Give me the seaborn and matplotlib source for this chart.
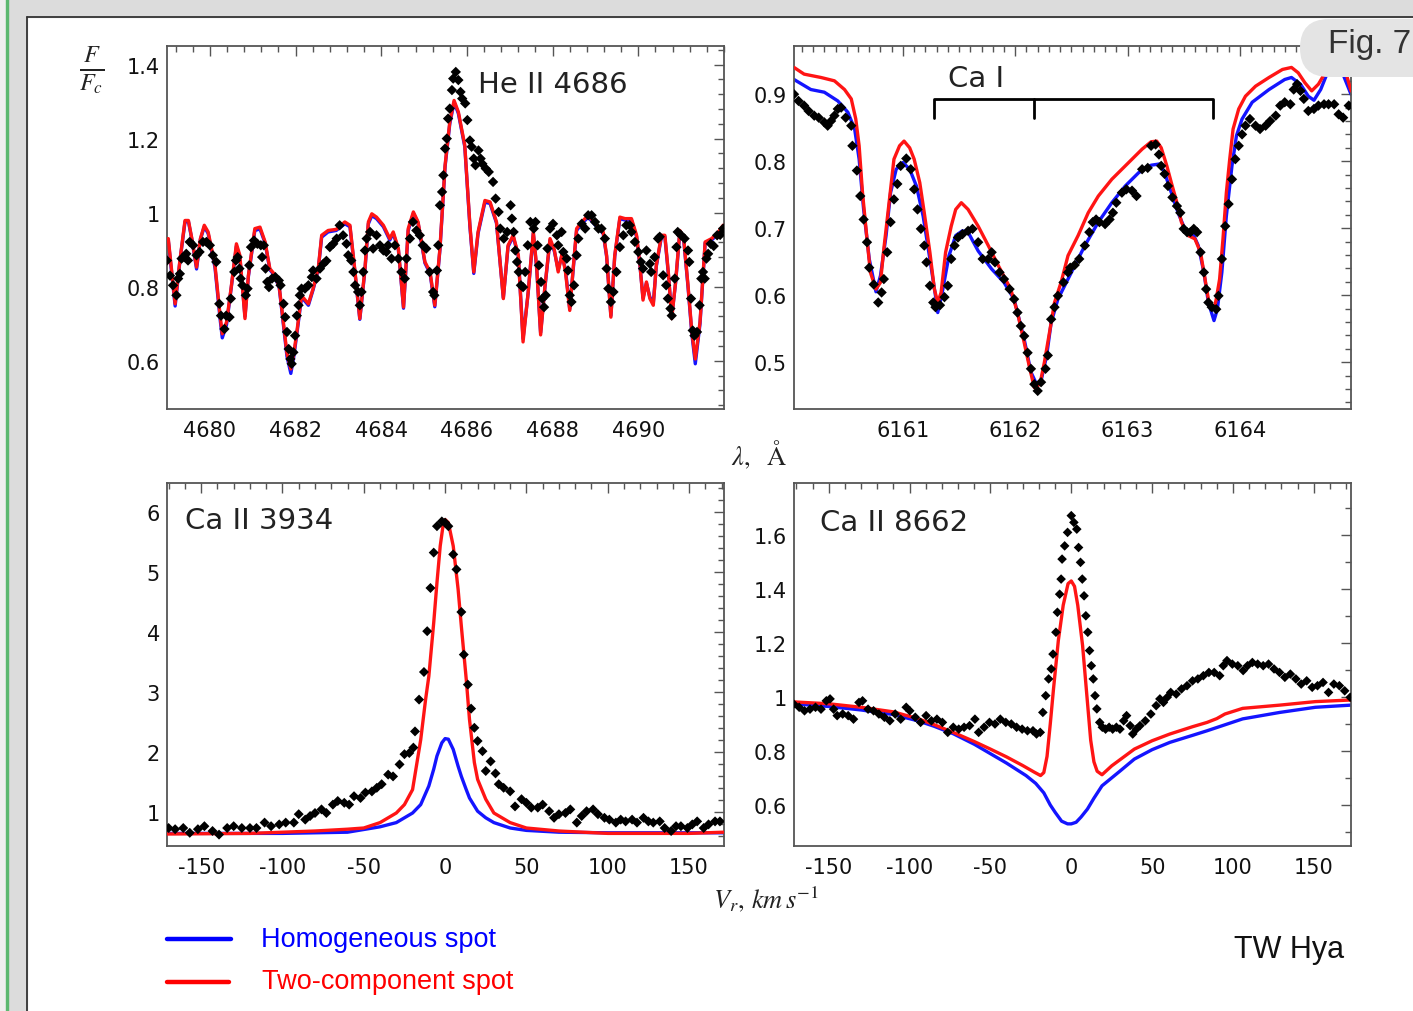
import numpy as np
import matplotlib
matplotlib.use("Agg")
import matplotlib.pyplot as plt
import seaborn as sns
from matplotlib.patches import Rectangle, FancyBboxPatch
from matplotlib.lines import Line2D
from matplotlib.ticker import MultipleLocator, FixedLocator, FixedFormatter

# ---------------- DATA ----------------
# He II 4686 panel (wavelength in Angstrom, normalised flux)
heii_mod_wl = [4679.03, 4679.19, 4679.30, 4679.42, 4679.50, 4679.58, 4679.69, 4679.78, 4679.87, 4679.96,
               4680.12, 4680.24, 4680.29, 4680.39, 4680.50, 4680.62, 4680.70, 4680.82, 4680.90, 4681.05,
               4681.17, 4681.29, 4681.40, 4681.50, 4681.62, 4681.72, 4681.80, 4681.89, 4681.96, 4682.03,
               4682.14, 4682.30, 4682.41, 4682.53, 4682.61, 4682.76, 4682.95, 4683.15, 4683.27, 4683.38,
               4683.50, 4683.62, 4683.70, 4683.78, 4683.89, 4684.05, 4684.20, 4684.28, 4684.40, 4684.52,
               4684.63, 4684.75, 4684.86, 4685.02, 4685.14, 4685.25, 4685.37, 4685.49, 4685.60, 4685.70,
               4685.80, 4685.95, 4686.07, 4686.16, 4686.26, 4686.42, 4686.54, 4686.69, 4686.85, 4686.96,
               4687.08, 4687.20, 4687.31, 4687.43, 4687.55, 4687.63, 4687.72, 4687.82, 4687.94, 4688.04,
               4688.13, 4688.22, 4688.30, 4688.40, 4688.48, 4688.56, 4688.68, 4688.83, 4689.03, 4689.18,
               4689.26, 4689.36, 4689.45, 4689.57, 4689.69, 4689.84, 4689.96, 4690.04, 4690.11, 4690.19,
               4690.27, 4690.35, 4690.42, 4690.54, 4690.62, 4690.70, 4690.78, 4690.87, 4690.97, 4691.06,
               4691.16, 4691.25, 4691.33, 4691.44, 4691.56, 4691.71, 4691.87, 4691.98]
heii_red = [0.930, 0.754, 0.870, 0.979, 0.979, 0.930, 0.853, 0.930, 0.966, 0.948,
            0.858, 0.722, 0.673, 0.705, 0.800, 0.916, 0.885, 0.714, 0.831, 0.957,
            0.961, 0.921, 0.849, 0.835, 0.800, 0.700, 0.620, 0.578, 0.620, 0.678,
            0.776, 0.754, 0.795, 0.849, 0.939, 0.952, 0.955, 0.975, 0.966, 0.850,
            0.714, 0.849, 0.975, 0.997, 0.988, 0.966, 0.930, 0.948, 0.903, 0.745,
            0.957, 1.002, 0.975, 0.867, 0.840, 0.750, 0.903, 1.128, 1.245, 1.303,
            1.272, 1.182, 0.966, 0.840, 0.948, 1.033, 1.029, 0.975, 0.768, 0.912,
            0.939, 0.885, 0.651, 0.786, 0.948, 0.850, 0.670, 0.800, 0.930, 0.900,
            0.840, 0.890, 0.840, 0.736, 0.850, 0.957, 0.975, 0.993, 0.966, 0.948,
            0.885, 0.718, 0.885, 0.988, 0.984, 0.984, 0.939, 0.858, 0.764, 0.813,
            0.768, 0.750, 0.858, 0.939, 0.939, 0.840, 0.714, 0.813, 0.952, 0.930,
            0.804, 0.678, 0.605, 0.705, 0.921, 0.930, 0.948, 0.966]
heii_blue = [0.925, 0.748, 0.868, 0.975, 0.976, 0.928, 0.848, 0.928, 0.962, 0.944,
             0.852, 0.712, 0.662, 0.698, 0.798, 0.910, 0.880, 0.720, 0.828, 0.952,
             0.956, 0.918, 0.846, 0.832, 0.797, 0.694, 0.612, 0.566, 0.612, 0.672,
             0.772, 0.750, 0.792, 0.846, 0.934, 0.948, 0.952, 0.970, 0.962, 0.846,
             0.712, 0.845, 0.970, 0.992, 0.984, 0.962, 0.926, 0.944, 0.900, 0.742,
             0.952, 0.998, 0.972, 0.864, 0.836, 0.746, 0.900, 1.124, 1.240, 1.298,
             1.268, 1.178, 0.962, 0.836, 0.944, 1.028, 1.025, 0.972, 0.770, 0.908,
             0.936, 0.882, 0.660, 0.784, 0.944, 0.846, 0.676, 0.798, 0.926, 0.896,
             0.846, 0.886, 0.846, 0.740, 0.846, 0.952, 0.970, 0.988, 0.962, 0.944,
             0.882, 0.722, 0.882, 0.984, 0.980, 0.980, 0.935, 0.855, 0.770, 0.810,
             0.772, 0.756, 0.855, 0.935, 0.935, 0.836, 0.720, 0.810, 0.948, 0.926,
             0.800, 0.672, 0.592, 0.700, 0.918, 0.926, 0.944, 0.962]
heii_obs_wl = [4679.00, 4679.07, 4679.14, 4679.22, 4679.26, 4679.30, 4679.34, 4679.41, 4679.45, 4679.49,
               4679.53, 4679.61, 4679.69, 4679.76, 4679.84, 4679.92, 4680.00, 4680.07, 4680.15, 4680.22,
               4680.26, 4680.34, 4680.38, 4680.46, 4680.49, 4680.57, 4680.61, 4680.65, 4680.69, 4680.72,
               4680.76, 4680.84, 4680.88, 4680.92, 4680.96, 4681.03, 4681.11, 4681.19, 4681.22, 4681.26,
               4681.30, 4681.34, 4681.38, 4681.45, 4681.53, 4681.61, 4681.65, 4681.72, 4681.76, 4681.80,
               4681.84, 4681.88, 4681.91, 4681.95, 4681.99, 4682.03, 4682.07, 4682.10, 4682.14, 4682.22,
               4682.30, 4682.38, 4682.41, 4682.49, 4682.57, 4682.65, 4682.72, 4682.80, 4682.88, 4682.96,
               4683.03, 4683.11, 4683.19, 4683.23, 4683.30, 4683.35, 4683.39, 4683.46, 4683.50, 4683.54,
               4683.58, 4683.62, 4683.66, 4683.74, 4683.81, 4683.89, 4683.97, 4684.05, 4684.12, 4684.16,
               4684.24, 4684.32, 4684.40, 4684.47, 4684.55, 4684.59, 4684.67, 4684.74, 4684.82, 4684.90,
               4684.97, 4685.05, 4685.13, 4685.21, 4685.24, 4685.30, 4685.33, 4685.37, 4685.42, 4685.45,
               4685.49, 4685.53, 4685.56, 4685.60, 4685.65, 4685.68, 4685.74, 4685.80, 4685.85, 4685.89,
               4685.96, 4686.01, 4686.07, 4686.11, 4686.16, 4686.20, 4686.27, 4686.32, 4686.36, 4686.44,
               4686.51, 4686.61, 4686.67, 4686.74, 4686.78, 4686.86, 4686.94, 4687.02, 4687.05, 4687.09,
               4687.13, 4687.17, 4687.21, 4687.26, 4687.31, 4687.36, 4687.42, 4687.48, 4687.56, 4687.60,
               4687.65, 4687.68, 4687.73, 4687.76, 4687.80, 4687.84, 4687.88, 4687.94, 4688.01, 4688.10,
               4688.13, 4688.21, 4688.25, 4688.33, 4688.36, 4688.40, 4688.44, 4688.50, 4688.56, 4688.60,
               4688.68, 4688.76, 4688.83, 4688.91, 4688.99, 4689.07, 4689.14, 4689.22, 4689.26, 4689.30,
               4689.36, 4689.42, 4689.49, 4689.57, 4689.65, 4689.72, 4689.80, 4689.84, 4689.92, 4690.00,
               4690.06, 4690.11, 4690.19, 4690.27, 4690.30, 4690.38, 4690.46, 4690.50, 4690.58, 4690.65,
               4690.69, 4690.75, 4690.78, 4690.85, 4690.89, 4690.92, 4691.00, 4691.08, 4691.16, 4691.19,
               4691.23, 4691.27, 4691.31, 4691.37, 4691.43, 4691.47, 4691.51, 4691.55, 4691.59, 4691.63,
               4691.69, 4691.76, 4691.84, 4691.91, 4691.98]
heii_obs = [0.871, 0.830, 0.804, 0.777, 0.822, 0.835, 0.876, 0.880, 0.889, 0.871,
            0.921, 0.912, 0.885, 0.894, 0.921, 0.921, 0.912, 0.885, 0.867, 0.754,
            0.722, 0.686, 0.722, 0.718, 0.768, 0.840, 0.871, 0.880, 0.849, 0.822,
            0.804, 0.777, 0.795, 0.858, 0.907, 0.925, 0.916, 0.912, 0.880, 0.912,
            0.849, 0.813, 0.799, 0.822, 0.826, 0.817, 0.804, 0.754, 0.718, 0.678,
            0.632, 0.605, 0.592, 0.623, 0.668, 0.722, 0.750, 0.777, 0.795, 0.795,
            0.804, 0.826, 0.844, 0.822, 0.849, 0.862, 0.870, 0.907, 0.916, 0.930,
            0.966, 0.939, 0.916, 0.885, 0.871, 0.840, 0.804, 0.786, 0.750, 0.786,
            0.840, 0.898, 0.930, 0.948, 0.903, 0.939, 0.912, 0.898, 0.894, 0.912,
            0.876, 0.912, 0.876, 0.840, 0.822, 0.876, 0.930, 0.975, 0.952, 0.939,
            0.912, 0.903, 0.840, 0.786, 0.777, 0.844, 0.912, 1.020, 1.056, 1.101,
            1.173, 1.200, 1.254, 1.281, 1.331, 1.362, 1.380, 1.358, 1.326, 1.308,
            1.295, 1.250, 1.195, 1.178, 1.146, 1.128, 1.168, 1.146, 1.132, 1.119,
            1.110, 1.083, 1.038, 1.002, 0.957, 0.930, 0.948, 1.020, 0.984, 0.948,
            0.898, 0.867, 0.840, 0.804, 0.799, 0.840, 0.912, 0.975, 0.957, 0.975,
            0.912, 0.858, 0.813, 0.768, 0.745, 0.777, 0.903, 0.957, 0.970, 0.939,
            0.912, 0.948, 0.894, 0.876, 0.844, 0.777, 0.759, 0.804, 0.885, 0.930,
            0.970, 0.957, 0.993, 0.993, 0.975, 0.957, 0.957, 0.930, 0.849, 0.795,
            0.759, 0.786, 0.840, 0.907, 0.939, 0.966, 0.966, 0.948, 0.921, 0.894,
            0.867, 0.849, 0.898, 0.862, 0.840, 0.880, 0.930, 0.935, 0.831, 0.804,
            0.768, 0.741, 0.722, 0.822, 0.907, 0.948, 0.939, 0.930, 0.898, 0.867,
            0.768, 0.682, 0.668, 0.678, 0.750, 0.822, 0.840, 0.822, 0.876, 0.889,
            0.916, 0.910, 0.939, 0.940, 0.957]

# Ca I 6162 panel
cai_red_wl = [6160.03, 6160.12, 6160.27, 6160.39, 6160.48, 6160.54, 6160.58, 6160.61, 6160.64, 6160.68,
              6160.71, 6160.76, 6160.80, 6160.83, 6160.88, 6160.92, 6160.97, 6161.01, 6161.06, 6161.10,
              6161.15, 6161.19, 6161.24, 6161.28, 6161.31, 6161.34, 6161.38, 6161.43, 6161.47, 6161.52,
              6161.58, 6161.67, 6161.76, 6161.85, 6161.96, 6162.02, 6162.08, 6162.13, 6162.17, 6162.22,
              6162.26, 6162.31, 6162.35, 6162.41, 6162.47, 6162.56, 6162.65, 6162.74, 6162.86, 6163.01,
              6163.13, 6163.21, 6163.26, 6163.30, 6163.35, 6163.39, 6163.44, 6163.48, 6163.54, 6163.60,
              6163.65, 6163.68, 6163.71, 6163.73, 6163.77, 6163.79, 6163.82, 6163.85, 6163.88, 6163.91,
              6163.94, 6163.99, 6164.05, 6164.14, 6164.26, 6164.38, 6164.46, 6164.52, 6164.58, 6164.64,
              6164.70, 6164.76, 6164.80, 6164.85, 6164.90, 6164.94, 6164.99]
cai_red = [0.940, 0.930, 0.925, 0.920, 0.907, 0.893, 0.863, 0.823, 0.753, 0.684,
           0.634, 0.609, 0.619, 0.669, 0.743, 0.803, 0.823, 0.830, 0.820, 0.803,
           0.768, 0.723, 0.664, 0.609, 0.589, 0.604, 0.664, 0.703, 0.728, 0.738,
           0.728, 0.703, 0.674, 0.644, 0.609, 0.574, 0.529, 0.490, 0.462, 0.467,
           0.500, 0.549, 0.589, 0.620, 0.659, 0.689, 0.723, 0.748, 0.773, 0.798,
           0.818, 0.829, 0.830, 0.820, 0.793, 0.768, 0.738, 0.709, 0.689, 0.684,
           0.664, 0.634, 0.604, 0.584, 0.579, 0.594, 0.624, 0.684, 0.753, 0.803,
           0.848, 0.878, 0.897, 0.912, 0.925, 0.937, 0.940, 0.932, 0.917, 0.905,
           0.915, 0.932, 0.950, 0.975, 0.965, 0.935, 0.905]
cai_blue_wl = [6160.03, 6160.18, 6160.30, 6160.42, 6160.51, 6160.57, 6160.61, 6160.65, 6160.70, 6160.76,
               6160.80, 6160.85, 6160.89, 6160.94, 6161.00, 6161.06, 6161.12, 6161.18, 6161.24, 6161.29,
               6161.31, 6161.35, 6161.41, 6161.47, 6161.53, 6161.58, 6161.67, 6161.79, 6161.90, 6161.99,
               6162.08, 6162.14, 6162.19, 6162.23, 6162.28, 6162.32, 6162.38, 6162.50, 6162.62, 6162.74,
               6162.86, 6162.98, 6163.10, 6163.21, 6163.29, 6163.33, 6163.39, 6163.45, 6163.51, 6163.59,
               6163.63, 6163.68, 6163.72, 6163.77, 6163.80, 6163.84, 6163.88, 6163.93, 6163.97, 6164.02,
               6164.11, 6164.26, 6164.40, 6164.46, 6164.54, 6164.61, 6164.66, 6164.72, 6164.78, 6164.83,
               6164.88, 6164.93, 6164.99]
cai_blue = [0.922, 0.907, 0.903, 0.890, 0.873, 0.848, 0.803, 0.728, 0.654, 0.605,
            0.629, 0.689, 0.753, 0.788, 0.798, 0.788, 0.763, 0.718, 0.654, 0.599,
            0.574, 0.604, 0.659, 0.689, 0.696, 0.694, 0.666, 0.639, 0.619, 0.594,
            0.534, 0.485, 0.467, 0.472, 0.510, 0.559, 0.594, 0.634, 0.674, 0.709,
            0.738, 0.763, 0.783, 0.794, 0.796, 0.783, 0.753, 0.723, 0.699, 0.689,
            0.674, 0.634, 0.589, 0.562, 0.579, 0.634, 0.718, 0.793, 0.838, 0.863,
            0.888, 0.907, 0.922, 0.925, 0.915, 0.897, 0.891, 0.907, 0.932, 0.955,
            0.950, 0.925, 0.900]
cai_obs_wl = [6160.03, 6160.07, 6160.12, 6160.16, 6160.21, 6160.25, 6160.30, 6160.33, 6160.36, 6160.39,
              6160.42, 6160.45, 6160.49, 6160.54, 6160.55, 6160.59, 6160.62, 6160.65, 6160.68, 6160.70,
              6160.74, 6160.78, 6160.81, 6160.83, 6160.86, 6160.89, 6160.92, 6160.95, 6160.98, 6161.03,
              6161.07, 6161.10, 6161.13, 6161.16, 6161.19, 6161.21, 6161.24, 6161.27, 6161.29, 6161.33,
              6161.37, 6161.40, 6161.43, 6161.46, 6161.49, 6161.53, 6161.58, 6161.62, 6161.67, 6161.71,
              6161.76, 6161.79, 6161.82, 6161.86, 6161.90, 6161.95, 6161.99, 6162.02, 6162.05, 6162.08,
              6162.11, 6162.14, 6162.17, 6162.20, 6162.23, 6162.27, 6162.29, 6162.32, 6162.35, 6162.38,
              6162.43, 6162.47, 6162.49, 6162.53, 6162.57, 6162.62, 6162.66, 6162.69, 6162.72, 6162.75,
              6162.80, 6162.84, 6162.87, 6162.90, 6162.95, 6162.99, 6163.04, 6163.08, 6163.13, 6163.18,
              6163.21, 6163.25, 6163.28, 6163.30, 6163.33, 6163.36, 6163.40, 6163.44, 6163.47, 6163.50,
              6163.53, 6163.56, 6163.59, 6163.62, 6163.65, 6163.68, 6163.70, 6163.72, 6163.75, 6163.79,
              6163.81, 6163.84, 6163.87, 6163.90, 6163.93, 6163.96, 6163.99, 6164.02, 6164.05, 6164.09,
              6164.14, 6164.18, 6164.23, 6164.27, 6164.32, 6164.36, 6164.40, 6164.45, 6164.48, 6164.51,
              6164.54, 6164.57, 6164.61, 6164.66, 6164.70, 6164.75, 6164.79, 6164.84, 6164.88, 6164.92,
              6164.97]
cai_obs = [0.900, 0.890, 0.883, 0.875, 0.868, 0.865, 0.858, 0.853, 0.860, 0.868,
           0.878, 0.880, 0.865, 0.853, 0.823, 0.786, 0.748, 0.713, 0.679, 0.641,
           0.616, 0.589, 0.604, 0.624, 0.664, 0.709, 0.743, 0.766, 0.793, 0.804,
           0.788, 0.758, 0.728, 0.699, 0.674, 0.649, 0.614, 0.589, 0.582, 0.585,
           0.597, 0.614, 0.654, 0.674, 0.686, 0.691, 0.696, 0.699, 0.679, 0.654,
           0.654, 0.664, 0.649, 0.634, 0.624, 0.609, 0.594, 0.574, 0.554, 0.539,
           0.514, 0.490, 0.467, 0.457, 0.470, 0.490, 0.510, 0.564, 0.582, 0.599,
           0.619, 0.634, 0.641, 0.645, 0.654, 0.674, 0.694, 0.709, 0.713, 0.709,
           0.706, 0.713, 0.723, 0.738, 0.753, 0.758, 0.756, 0.748, 0.788, 0.790,
           0.823, 0.825, 0.810, 0.793, 0.781, 0.763, 0.746, 0.733, 0.723, 0.699,
           0.694, 0.694, 0.699, 0.694, 0.664, 0.634, 0.609, 0.589, 0.582, 0.579,
           0.599, 0.654, 0.703, 0.736, 0.773, 0.803, 0.823, 0.840, 0.853, 0.863,
           0.853, 0.848, 0.853, 0.860, 0.868, 0.883, 0.888, 0.885, 0.907, 0.915,
           0.905, 0.893, 0.875, 0.878, 0.883, 0.885, 0.885, 0.885, 0.870, 0.865,
           0.883]

# Ca II 3934 panel (radial velocity, km/s)
ca3934_red_v = [-171, -120, -80, -60, -50, -40, -30, -25, -20, -15, -12, -10, -7, -5, -3, -1, 0,
                2, 5, 8, 10, 13, 15, 18, 20, 25, 30, 40, 50, 70, 100, 150, 171]
ca3934_red = [0.63, 0.64, 0.68, 0.71, 0.73, 0.82, 0.98, 1.12, 1.37, 2.20, 2.87, 3.26, 4.15, 4.82, 5.43, 5.82, 5.87,
              5.82, 5.43, 4.71, 4.09, 3.21, 2.54, 1.82, 1.54, 1.21, 0.98, 0.82, 0.73, 0.68, 0.64, 0.64, 0.66]
ca3934_blue_v = [-171, -100, -60, -40, -30, -20, -15, -10, -7, -5, -2, 0, 2, 5, 8, 10, 13, 15,
                 20, 25, 30, 40, 50, 70, 100, 150, 171]
ca3934_blue = [0.64, 0.64, 0.66, 0.75, 0.82, 0.98, 1.12, 1.43, 1.71, 1.93, 2.15, 2.22, 2.21, 2.04, 1.76, 1.59,
               1.37, 1.23, 1.01, 0.90, 0.82, 0.73, 0.69, 0.66, 0.65, 0.65, 0.65]
ca3934_obs_v = [-170, -166, -161, -157, -152, -148, -143, -139, -134, -130, -125, -120, -116, -111, -107,
                -102, -98, -93, -90, -86, -83, -80, -76, -73, -69, -66, -62, -59, -56, -52, -49, -45, -42,
                -39, -35, -32, -28, -25, -22, -19.5, -18.5, -16, -13, -11, -9, -7, -5, -2, 0, 2, 5, 7, 10,
                11.5, 14, 16, 18, 20, 23, 25, 28, 31, 33, 36, 40, 43, 47, 50, 53, 57, 60, 64, 67, 70, 74,
                77, 81, 84, 87, 91, 94, 98, 101, 105, 108, 111, 115, 118, 122, 125, 128, 132, 135, 139, 142,
                145, 149, 152, 155, 159, 162, 166, 169]
ca3934_obs = [0.73, 0.71, 0.73, 0.65, 0.71, 0.76, 0.68, 0.62, 0.73, 0.76, 0.73, 0.73, 0.73, 0.82, 0.76,
              0.79, 0.82, 0.82, 0.96, 0.87, 0.93, 0.98, 1.04, 0.98, 1.12, 1.18, 1.15, 1.12, 1.26, 1.23, 1.32,
              1.34, 1.40, 1.46, 1.62, 1.59, 1.79, 1.96, 1.98, 2.07, 2.34, 2.87, 3.33, 4.01, 4.73, 5.32, 5.76,
              5.84, 5.82, 5.76, 5.29, 5.04, 4.33, 3.62, 3.12, 2.72, 2.40, 2.18, 2.01, 1.68, 1.84, 1.64, 1.46,
              1.40, 1.34, 1.09, 1.21, 1.15, 1.07, 1.07, 1.12, 1.01, 0.90, 0.96, 0.98, 1.04, 0.82, 0.93, 1.01,
              1.04, 0.96, 0.90, 0.87, 0.82, 0.87, 0.84, 0.87, 0.82, 0.90, 0.84, 0.82, 0.84, 0.73, 0.68, 0.76,
              0.76, 0.73, 0.79, 0.84, 0.73, 0.79, 0.84, 0.84]

# Ca II 8662 panel
ca8662_red_v = [-172, -150, -130, -110, -95, -85, -73, -60, -50, -40, -30, -23, -19, -17, -15, -13, -11,
                -8, -5, -2, 0, 2, 4, 7, 10, 12, 14, 16, 19, 25, 39, 50, 61, 75, 84, 90, 95, 106, 129, 151, 173]
ca8662_red = [0.982, 0.975, 0.962, 0.945, 0.920, 0.898, 0.869, 0.835, 0.807, 0.778, 0.746, 0.722, 0.709,
              0.720, 0.780, 0.900, 1.030, 1.210, 1.340, 1.420, 1.430, 1.410, 1.340, 1.190, 0.980, 0.840,
              0.760, 0.725, 0.712, 0.745, 0.807, 0.838, 0.863, 0.890, 0.906, 0.920, 0.937, 0.958, 0.970,
              0.983, 0.989]
ca8662_blue_v = [-172, -150, -130, -110, -95, -85, -73, -60, -50, -40, -28, -22, -17, -13, -10, -6, -2.3,
                 0, 3, 6, 10, 14, 19, 30, 39, 50, 61, 75, 84, 95, 106, 129, 151, 173]
ca8662_blue = [0.975, 0.965, 0.952, 0.935, 0.912, 0.892, 0.864, 0.825, 0.790, 0.755, 0.709, 0.680, 0.645,
               0.600, 0.573, 0.540, 0.530, 0.530, 0.536, 0.555, 0.585, 0.625, 0.671, 0.725, 0.770, 0.805,
               0.832, 0.858, 0.875, 0.897, 0.919, 0.943, 0.962, 0.970]
ca8662_obs_v = [-171.7, -168.3, -165.0, -161.6, -158.2, -154.8, -151.5, -149.2, -147.0, -144.8, -141.4,
                -138.0, -134.7, -131.3, -129.1, -125.7, -122.3, -119.0, -115.6, -112.2, -108.9, -105.5,
                -102.1, -99.9, -96.5, -93.2, -89.8, -86.5, -83.1, -79.7, -76.4, -73.0, -69.6, -66.3, -62.9,
                -59.6, -57.3, -53.9, -50.6, -47.2, -43.9, -40.5, -37.1, -33.8, -30.4, -27.1, -23.7, -21.5,
                -19.2, -17.6, -15.8, -14.0, -12.4, -11.3, -9.5, -8.6, -7.2, -6.3, -5.7, -4.1, -2.3, 0.0,
                1.6, 3.4, 4.5, 5.7, 6.8, 7.9, 9.0, 10.2, 11.3, 12.4, 13.6, 14.7, 15.8, 17.6, 19.2, 21.2,
                23.4, 25.6, 27.9, 30.1, 32.4, 34.2, 36.4, 38.0, 40.2, 42.5, 45.8, 49.2, 52.5, 54.8, 57.0,
                59.3, 61.5, 64.9, 68.2, 71.6, 75.0, 78.3, 81.7, 85.1, 88.4, 91.8, 94.0, 96.3, 99.6, 103.0,
                106.3, 109.0, 112.0, 115.3, 118.7, 122.0, 125.4, 128.8, 132.1, 135.5, 138.9, 142.2, 145.6,
                149.0, 152.3, 155.7, 159.1, 162.4, 165.8, 169.1, 172.5]
ca8662_obs = [0.974, 0.962, 0.949, 0.955, 0.962, 0.955, 0.986, 0.993, 0.955, 0.931, 0.937,
              0.931, 0.918, 0.980, 0.986, 0.955, 0.949, 0.937, 0.925, 0.912, 0.937, 0.918,
              0.962, 0.949, 0.925, 0.906, 0.931, 0.912, 0.918, 0.906, 0.869, 0.888, 0.881, 0.888, 0.894,
              0.918, 0.869, 0.888, 0.906, 0.900, 0.918, 0.906, 0.900, 0.888, 0.881, 0.875, 0.875, 0.863,
              0.869, 0.943, 1.005, 1.067, 1.104, 1.159, 1.240, 1.314, 1.381, 1.437, 1.511, 1.560, 1.610, 1.672,
              1.647, 1.622, 1.554, 1.499, 1.437, 1.375, 1.301, 1.240, 1.172, 1.116, 1.067, 1.005, 0.956, 0.906,
              0.888, 0.881, 0.888, 0.881, 0.888, 0.881, 0.912, 0.931, 0.894, 0.863, 0.881, 0.894, 0.912, 0.937,
              0.968, 0.993, 0.980, 0.999, 1.017, 1.011, 1.030, 1.042, 1.060, 1.067, 1.079, 1.091, 1.091, 1.079,
              1.116, 1.135, 1.122, 1.116, 1.098, 1.116, 1.128, 1.122, 1.116, 1.122, 1.104, 1.091, 1.073, 1.085,
              1.067, 1.048, 1.060, 1.036, 1.042, 1.054, 1.017, 1.048, 1.042, 1.023, 0.999]

# tick labels
heii_xticks = [4680, 4682, 4684, 4686, 4688, 4690]
heii_yticks = [0.6, 0.8, 1.0, 1.2, 1.4]
heii_ylabels = ["0.6", "0.8", "1", "1.2", "1.4"]
cai_xticks = [6161, 6162, 6163, 6164]
cai_yticks = [0.5, 0.6, 0.7, 0.8, 0.9]
cai_ylabels = ["0.5", "0.6", "0.7", "0.8", "0.9"]
v_xticks = [-150, -100, -50, 0, 50, 100, 150]
ca3934_yticks = [1, 2, 3, 4, 5, 6]
ca3934_ylabels = ["1", "2", "3", "4", "5", "6"]
ca8662_yticks = [0.6, 0.8, 1.0, 1.2, 1.4, 1.6]
ca8662_ylabels = ["0.6", "0.8", "1", "1.2", "1.4", "1.6"]
cai_bracket_x = [6161.277, 6162.17, 6163.76]

# ---------------- STYLE ----------------
sns.set_style("white")
plt.rcParams['font.family'] = ['DejaVu Sans']
plt.rcParams['mathtext.fontset'] = 'stix'
plt.rcParams['axes.unicode_minus'] = False

BLUE = "#1414ff"
RED = "#ff1414"
W, H = 1413, 1012

fig = plt.figure(figsize=(W / 100, H / 100), dpi=100)
fig.patch.set_facecolor("white")


def fx(px):
    return px / W


def fy(py):
    return 1 - py / H


# page decorations
fig.patches.append(Rectangle((0, fy(18)), 1, 18 / H, transform=fig.transFigure, color="#dcdcdc", zorder=0))
fig.patches.append(Rectangle((0, 0), fx(27), 1, transform=fig.transFigure, color="#dcdcdc", zorder=0))
fig.patches.append(Rectangle((0, 0), fx(5), 1, transform=fig.transFigure, color="#efefef", zorder=0))
fig.patches.append(Rectangle((fx(5.5), 0), fx(2.5), 1, transform=fig.transFigure, color="#5cb870", zorder=0))
fig.lines.append(Line2D([fx(27), fx(27)], [0, fy(18)], transform=fig.transFigure, color="#333333", lw=1.3))
fig.lines.append(Line2D([fx(27), 1], [fy(18), fy(18)], transform=fig.transFigure, color="#333333", lw=1.3))


def make_ax(px0, py0, px1, py1):
    return fig.add_axes([fx(px0), fy(py1), (px1 - px0) / W, (py1 - py0) / H])


def style_ax(ax, xlim, ylim, xticks, xlabels, yticks, ylabels, xminor, yminor):
    ax.set_xlim(*xlim)
    ax.set_ylim(*ylim)
    ax.xaxis.set_major_locator(FixedLocator(xticks))
    ax.xaxis.set_major_formatter(FixedFormatter(xlabels))
    ax.yaxis.set_major_locator(FixedLocator(yticks))
    ax.yaxis.set_major_formatter(FixedFormatter(ylabels))
    ax.xaxis.set_minor_locator(MultipleLocator(xminor))
    ax.yaxis.set_minor_locator(MultipleLocator(yminor))
    ax.tick_params(which="both", direction="in", top=True, right=True, color="#555555", width=1.0)
    ax.tick_params(which="major", length=7)
    ax.tick_params(which="minor", length=4)
    ax.tick_params(axis="x", which="major", labelsize=15, pad=8, labelcolor="#111111")
    ax.tick_params(axis="y", which="major", labelsize=15, pad=5, labelcolor="#111111")
    for s in ax.spines.values():
        s.set_color("#555555")
        s.set_linewidth(1.3)
    ax.set_xlabel("")
    ax.set_ylabel("")
    ax.set_facecolor("white")


def draw(ax, bx, by, rx, ry, ox, oy, ms=20):
    sns.lineplot(x=bx, y=by, ax=ax, color=BLUE, lw=2.4, estimator=None, sort=False, legend=False, zorder=2)
    sns.lineplot(x=rx, y=ry, ax=ax, color=RED, lw=2.4, estimator=None, sort=False, legend=False, zorder=3)
    sns.scatterplot(x=ox, y=oy, ax=ax, marker="D", s=ms, color="black", edgecolor="none", linewidth=0,
                    legend=False, zorder=4)


# --- He II 4686 ---
ax1 = make_ax(167, 47, 724, 410)
draw(ax1, heii_mod_wl, heii_blue, heii_mod_wl, heii_red, heii_obs_wl, heii_obs, ms=28)
style_ax(ax1, (4679.0, 4692.0), (0.47, 1.45), heii_xticks, [str(t) for t in heii_xticks],
         heii_yticks, heii_ylabels, 0.4, 0.04)
ax1.text(0.558, 0.895, "He II 4686", transform=ax1.transAxes, fontsize=21, color="#222222", va="center", ha="left")

# --- Ca I ---
ax2 = make_ax(794, 47, 1351, 410)
draw(ax2, cai_blue_wl, cai_blue, cai_red_wl, cai_red, cai_obs_wl, cai_obs, ms=28)
style_ax(ax2, (6160.03, 6164.99), (0.43, 0.972), cai_xticks, [str(t) for t in cai_xticks],
         cai_yticks, cai_ylabels, 0.1, 0.02)
ax2.plot([cai_bracket_x[0], cai_bracket_x[0], cai_bracket_x[2], cai_bracket_x[2]],
         [0.864, 0.8925, 0.8925, 0.864], color="black", lw=2.0, zorder=5)
ax2.plot([cai_bracket_x[1], cai_bracket_x[1]], [0.8925, 0.864], color="black", lw=2.0, zorder=5)
ax2.text(0.276, 0.912, "Ca I", transform=ax2.transAxes, fontsize=21, color="#222222", va="center", ha="left")

# --- Ca II 3934 ---
ax3 = make_ax(167, 484, 724, 847)
draw(ax3, ca3934_blue_v, ca3934_blue, ca3934_red_v, ca3934_red, ca3934_obs_v, ca3934_obs, ms=26)
style_ax(ax3, (-171, 171.5), (0.43, 6.48), v_xticks, [str(t) for t in v_xticks],
         ca3934_yticks, ca3934_ylabels, 10, 0.2)
ax3.text(0.032, 0.898, "Ca II 3934", transform=ax3.transAxes, fontsize=21, color="#222222", va="center", ha="left")

# --- Ca II 8662 ---
ax4 = make_ax(794, 484, 1351, 847)
draw(ax4, ca8662_blue_v, ca8662_blue, ca8662_red_v, ca8662_red, ca8662_obs_v, ca8662_obs, ms=24)
style_ax(ax4, (-171.5, 173), (0.448, 1.793), v_xticks, [str(t) for t in v_xticks],
         ca8662_yticks, ca8662_ylabels, 10, 0.1)
ax4.text(0.047, 0.893, "Ca II 8662", transform=ax4.transAxes, fontsize=21, color="#222222", va="center", ha="left")

# axis labels
fig.text(fx(92), fy(70), r"$\frac{F}{F_c}$", fontsize=25, ha="center", va="center", color="#222222")
fig.text(fx(759), fy(455), r"$\lambda,\ \ \mathrm{\AA}$", fontsize=19, ha="center", va="center", color="#222222")
fig.text(fx(766), fy(900), r"$V_r,\, km\, s^{-1}$", fontsize=19, ha="center", va="center", color="#222222")

# legend
sans = ["Liberation Sans", "DejaVu Sans"]
fig.lines.append(Line2D([fx(167), fx(231)], [fy(940), fy(940)], transform=fig.transFigure, color="#0000ff", lw=3.2))
fig.lines.append(Line2D([fx(167), fx(229)], [fy(983), fy(983)], transform=fig.transFigure, color="#ff0000", lw=3.2))
fig.text(fx(261), fy(940), "Homogeneous spot", color="#0000ff", fontsize=19.5, family=sans, ha="left", va="center")
fig.text(fx(262), fy(982), "Two-component spot", color="#ff0000", fontsize=19.5, family=sans, ha="left", va="center")
fig.text(fx(1234), fy(950), "TW Hya", color="#111111", fontsize=22, family=sans, ha="left", va="center")

# "Fig. 7" bubble
bub = FancyBboxPatch((13.0, (H - 78) / 100), 2.0, 0.58, boxstyle="round,pad=0,rounding_size=0.29",
                     transform=fig.dpi_scale_trans, facecolor="#e4e4e4", edgecolor="none", zorder=20)
fig.patches.append(bub)
fig.text(fx(1328), fy(45), "Fig. 7", color="#333333", fontsize=24, family=sans, ha="left", va="center", zorder=21)

fig.savefig("out.png", dpi=100)
